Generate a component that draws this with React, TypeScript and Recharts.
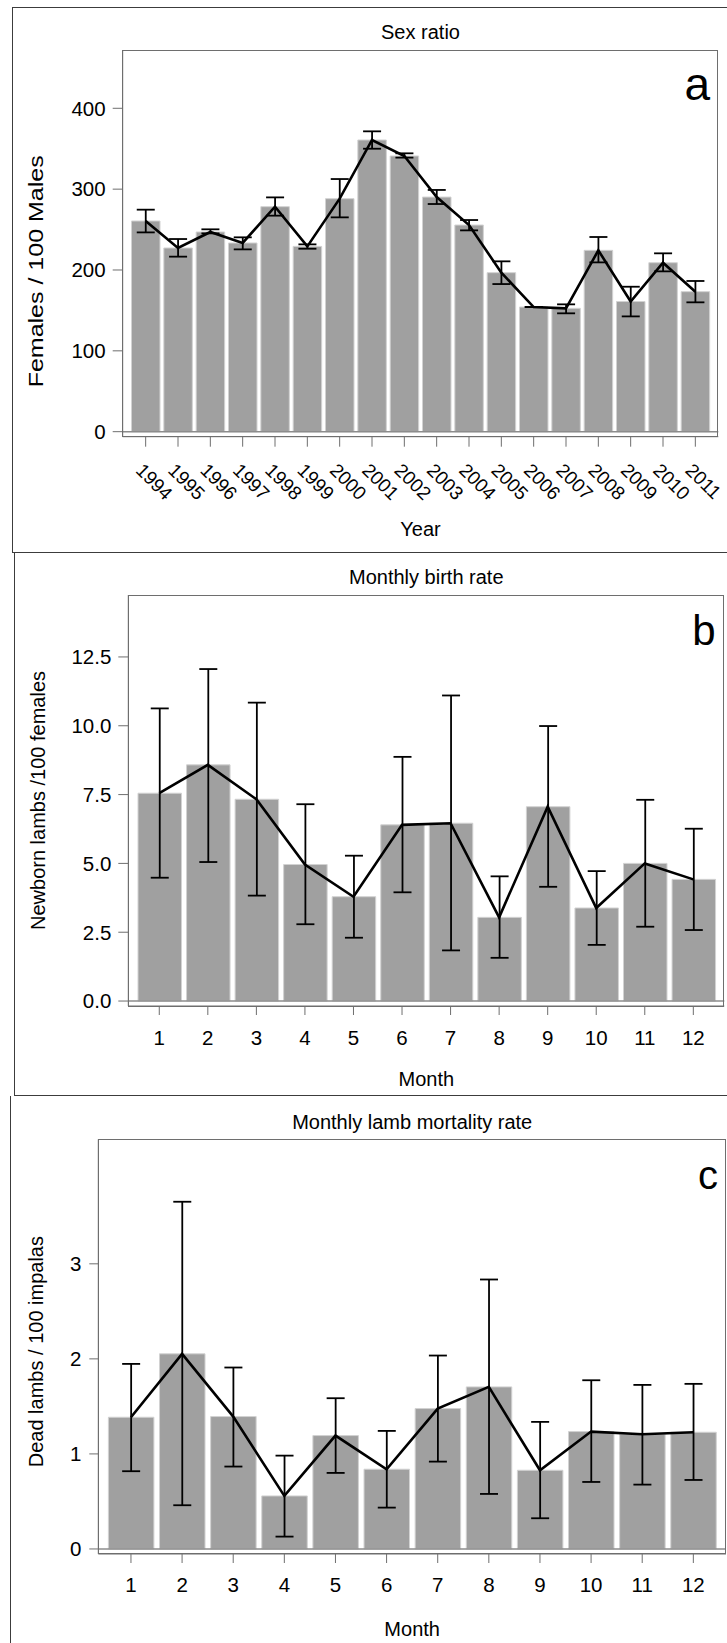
import React from "react";
import { ComposedChart, Bar, Line, ErrorBar, XAxis, YAxis, ReferenceLine } from "recharts";

const FONT = '"Liberation Sans", Arial, Helvetica, sans-serif';
const BAR_FILL = "#a0a0a0";
const BAR_EDGE = "#d2d2d2";
const FRAME = "#6e6e6e";
const PAGE_W = 727;
const PAGE_H = 1643;

// a: sex ratio per year (bar = mean, whiskers = low/high)
const years = [
  "1994", "1995", "1996", "1997", "1998", "1999", "2000", "2001", "2002",
  "2003", "2004", "2005", "2006", "2007", "2008", "2009", "2010", "2011",
];
const sexRatio = [260.6, 227.2, 247.0, 233.4, 278.3, 229.2, 288.2, 360.8, 341.0, 290.2, 255.6, 196.7, 154.2, 152.6, 224.3, 161.0, 209.0, 173.2];
const sexRatioLow = [246.5, 216.5, 245.3, 225.5, 267.2, 226.3, 265.1, 350.0, 339.0, 281.6, 249.0, 182.6, 154.2, 146.4, 209.4, 142.6, 198.3, 160.0];
const sexRatioHigh = [274.6, 238.3, 250.3, 240.4, 289.8, 231.7, 312.5, 371.5, 344.3, 299.0, 261.8, 210.7, 154.2, 157.5, 240.8, 179.3, 220.6, 186.4];
const sexRatioTicks = [0, 100, 200, 300, 400];

// b: monthly birth rate
const months = ["1", "2", "3", "4", "5", "6", "7", "8", "9", "10", "11", "12"];
const birthRate = [7.55, 8.58, 7.33, 4.96, 3.79, 6.4, 6.46, 3.04, 7.06, 3.38, 5.0, 4.42];
const birthLow = [4.48, 5.05, 3.83, 2.79, 2.3, 3.95, 1.84, 1.57, 4.15, 2.04, 2.7, 2.58];
const birthHigh = [10.63, 12.06, 10.84, 7.15, 5.28, 8.87, 11.1, 4.53, 9.99, 4.72, 7.31, 6.26];
const birthTicks = [0, 2.5, 5, 7.5, 10, 12.5];

// c: monthly lamb mortality rate
const mortality = [1.386, 2.053, 1.393, 0.558, 1.193, 0.839, 1.477, 1.705, 0.828, 1.235, 1.207, 1.228];
const mortalityLow = [0.818, 0.46, 0.867, 0.13, 0.8, 0.435, 0.919, 0.579, 0.323, 0.705, 0.677, 0.726];
const mortalityHigh = [1.947, 3.653, 1.909, 0.982, 1.586, 1.242, 2.035, 2.835, 1.337, 1.775, 1.726, 1.737];
const mortalityTicks = [0, 1, 2, 3];

type Row = { name: string; value: number; err: [number, number] };

function buildRows(names: string[], values: number[], low: number[], high: number[]): Row[] {
  return names.map((name, i) => ({
    name,
    value: values[i],
    err: [values[i] - low[i], high[i] - values[i]],
  }));
}

function YearTick({ x, y, payload }: any) {
  const tx = x - 11;
  return (
    <text
      x={tx}
      y={y}
      transform={`rotate(45 ${tx} ${y})`}
      fontSize={19}
      fontFamily={FONT}
      fill="#000"
      textAnchor="start"
    >
      {payload.value}
    </text>
  );
}

interface PanelProps {
  top: number;
  height: number;
  rows: Row[];
  plotTop: number;
  plotLeft: number;
  plotRight: number;
  plotBottom: number;
  yDomain: [number, number];
  yTicks: number[];
  yFormat?: (v: number) => string;
  yTickSize: number;
  yTickMargin: number;
  xTickSize: number;
  xTickMargin: number;
  xPad: number;
  barSize: number;
  yLabel: string;
  yLabelX: number;
  yLabelShift?: number;
  yLabelLength?: number;
  xLabel: string;
  xLabelOffset: number;
  rotatedTicks?: boolean;
}

function Panel(p: PanelProps) {
  const tickFont = { fontSize: 20.5, fill: "#000", fontFamily: FONT };
  const yLabel = (props: any) => {
    const vb = props.viewBox || {};
    const cy = (vb.y ?? 0) + (vb.height ?? 0) / 2 + (p.yLabelShift ?? 0);
    const bx = p.yLabelX + 7.1;
    return (
      <text
        transform={`translate(${bx},${cy}) rotate(-90)`}
        textAnchor="middle"
        fontSize={20}
        fontFamily={FONT}
        fill="#000"
        textLength={p.yLabelLength}
        lengthAdjust={p.yLabelLength ? "spacingAndGlyphs" : undefined}
      >
        {p.yLabel}
      </text>
    );
  };
  return (
    <div style={{ position: "absolute", left: 0, top: p.top, width: PAGE_W, height: p.height }}>
      <ComposedChart
        width={PAGE_W}
        height={p.height}
        data={p.rows}
        margin={{ top: p.plotTop, right: PAGE_W - p.plotRight, left: 0, bottom: 0 }}
      >
        <XAxis
          dataKey="name"
          type="category"
          height={p.height - p.plotBottom}
          interval={0}
          padding={{ left: p.xPad, right: p.xPad }}
          tickSize={p.xTickSize}
          tickMargin={p.xTickMargin}
          axisLine={{ stroke: FRAME }}
          tickLine={{ stroke: FRAME }}
          tick={p.rotatedTicks ? <YearTick /> : tickFont}
          label={{
            value: p.xLabel,
            position: "insideBottom",
            offset: p.xLabelOffset,
            style: { fontSize: 20, fill: "#000", fontFamily: FONT },
          }}
        />
        <YAxis
          type="number"
          width={p.plotLeft}
          domain={p.yDomain}
          ticks={p.yTicks}
          allowDataOverflow
          interval={0}
          tickFormatter={p.yFormat}
          tickSize={p.yTickSize}
          tickMargin={p.yTickMargin}
          axisLine={{ stroke: FRAME }}
          tickLine={{ stroke: FRAME }}
          tick={tickFont}
          label={yLabel}
        />
        <Bar dataKey="value" fill={BAR_FILL} stroke={BAR_EDGE} strokeWidth={1} barSize={p.barSize} isAnimationActive={false}>
          <ErrorBar dataKey="err" width={9} stroke="#000" strokeWidth={1.8} direction="y" />
        </Bar>
        <ReferenceLine y={0} stroke="#8c8c8c" strokeWidth={1.5} />
        <Line dataKey="value" stroke="#000" strokeWidth={2.6} dot={false} activeDot={false} isAnimationActive={false} />
      </ComposedChart>
      {/* plot frame */}
      <div
        style={{
          position: "absolute",
          left: p.plotLeft - 0.5,
          top: p.plotTop,
          width: p.plotRight - p.plotLeft + 0.5,
          height: p.plotBottom - p.plotTop + 0.5,
          border: `1px solid ${FRAME}`,
          boxSizing: "border-box",
          pointerEvents: "none",
        }}
      />
    </div>
  );
}

export default function App() {
  const sexRows = buildRows(years, sexRatio, sexRatioLow, sexRatioHigh);
  const birthRows = buildRows(months, birthRate, birthLow, birthHigh);
  const mortalityRows = buildRows(months, mortality, mortalityLow, mortalityHigh);
  const textStyle = { fontFamily: FONT, fill: "#000" };

  return (
    <div style={{ position: "absolute", left: 0, top: 0, width: PAGE_W, height: PAGE_H, background: "#fff", fontFamily: FONT }}>
      <Panel
        top={0}
        height={552}
        rows={sexRows}
        plotTop={50}
        plotLeft={122.7}
        plotRight={718.3}
        plotBottom={436.7}
        yDomain={[-6.2, 472.1]}
        yTicks={sexRatioTicks}
        yTickSize={10}
        yTickMargin={7}
        xTickSize={10}
        xTickMargin={24.7}
        xPad={6.8}
        barSize={28.5}
        yLabel="Females / 100 Males"
        yLabelX={36}
        yLabelShift={28}
        yLabelLength={232}
        xLabel="Year"
        xLabelOffset={16}
        rotatedTicks
      />
      <Panel
        top={552}
        height={543}
        rows={birthRows}
        plotTop={43}
        plotLeft={128.3}
        plotRight={724.3}
        plotBottom={454}
        yDomain={[-0.18, 14.75]}
        yTicks={birthTicks}
        yFormat={(v) => v.toFixed(1)}
        yTickSize={10}
        yTickMargin={7}
        xTickSize={9}
        xTickMargin={15}
        xPad={6.7}
        barSize={43.5}
        yLabel="Newborn lambs /100 females"
        yLabelX={38}
        xLabel="Month"
        xLabelOffset={9}
      />
      <Panel
        top={1095}
        height={548}
        rows={mortalityRows}
        plotTop={44.3}
        plotLeft={98.3}
        plotRight={726}
        plotBottom={459}
        yDomain={[-0.053, 4.31]}
        yTicks={mortalityTicks}
        yTickSize={9}
        yTickMargin={8}
        xTickSize={9}
        xTickMargin={14.7}
        xPad={7.1}
        barSize={45.5}
        yLabel="Dead lambs / 100 impalas"
        yLabelX={35.5}
        yLabelShift={5}
        xLabel="Month"
        xLabelOffset={7}
      />
      <svg width={PAGE_W} height={PAGE_H} style={{ position: "absolute", left: 0, top: 0, pointerEvents: "none" }}>
        <g stroke="#3c3c3c" strokeWidth={1} fill="none" shapeRendering="crispEdges">
          <polyline points="727,7.5 12.5,7.5 12.5,552.5 727,552.5" />
          <polyline points="14.5,552.5 14.5,1095.5 727,1095.5" />
          <polyline points="10.5,1095.5 10.5,1643" />
        </g>
        <text x={420.5} y={39.3} textAnchor="middle" fontSize={20} {...textStyle}>Sex ratio</text>
        <text x={426.3} y={584.3} textAnchor="middle" fontSize={20} {...textStyle}>Monthly birth rate</text>
        <text x={412.2} y={1128.6} textAnchor="middle" fontSize={20} {...textStyle}>Monthly lamb mortality rate</text>
        <text x={710} y={100} textAnchor="end" fontSize={46} {...textStyle}>a</text>
        <text x={715.5} y={645} textAnchor="end" fontSize={42} {...textStyle}>b</text>
        <text x={718} y={1189} textAnchor="end" fontSize={40} {...textStyle}>c</text>
      </svg>
    </div>
  );
}
